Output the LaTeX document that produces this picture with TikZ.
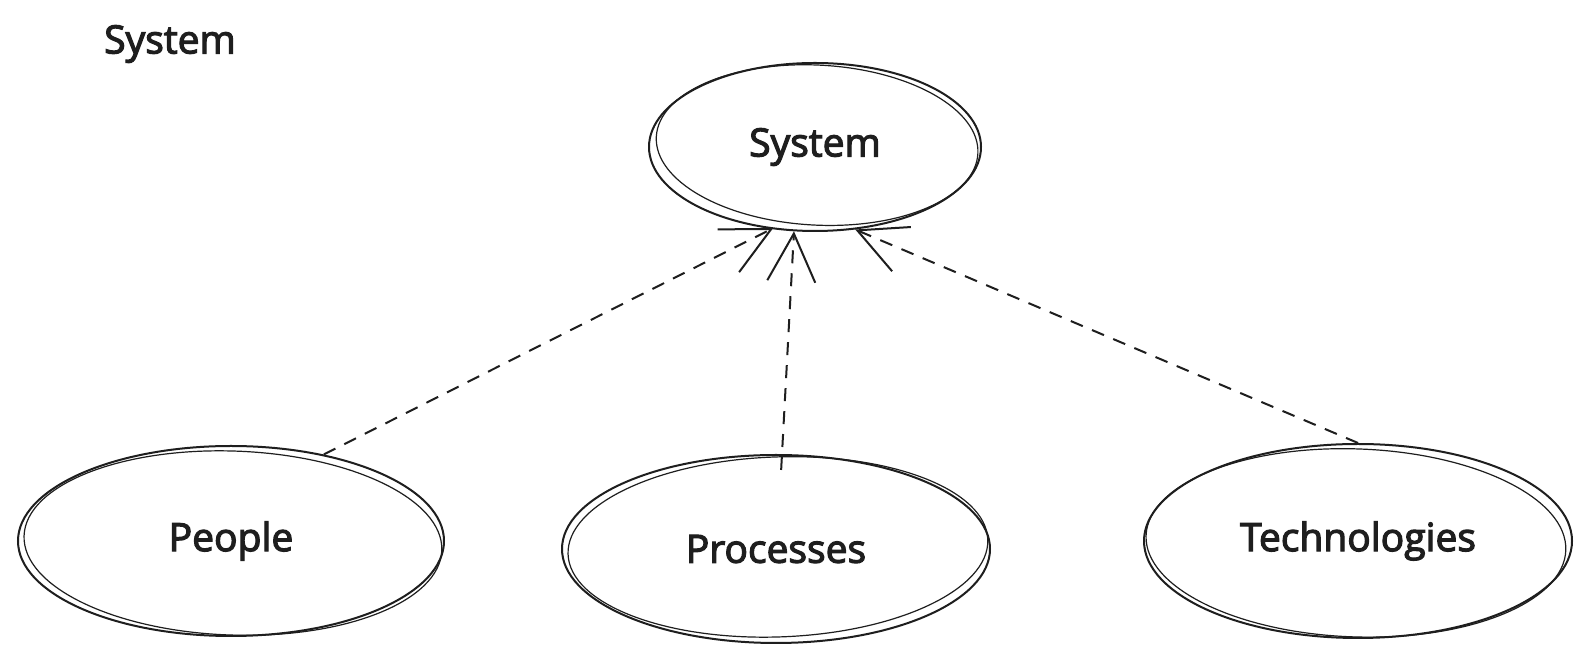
\documentclass[tikz,border=0pt]{standalone}
\usepackage{fontspec}
\newfontfamily\hand{Open Sans}[RawFeature={embolden=3}]
\usetikzlibrary{shapes.geometric,arrows.meta}
\definecolor{ink}{HTML}{1E1E1E}
\tikzset{
  oval/.style={ellipse,draw=ink,line width=2pt,inner sep=0pt,font=\hand\fontsize{39}{42}\selectfont,text=ink},
  sketch/.style={draw=ink,line width=1.2pt},
  dep/.style={draw=ink,line width=2pt,dash pattern=on 13pt off 10pt,
    -{Straight Barb[length=48pt,width=48pt,line width=2pt]}},
  lbl/.style={font=\hand\fontsize{39}{42}\selectfont,text=ink,inner sep=0pt}
}
\begin{document}
\begin{tikzpicture}[x=1pt,y=1pt]
\useasboundingbox (0,0) rectangle (1588,663);
\fill[white] (0,0) rectangle (1588,663);
\node[lbl] (title) at (170,619) {System};
\node[oval,minimum width=332pt,minimum height=168pt] (system) at (815,516) {System};
\node[oval,minimum width=426pt,minimum height=190pt] (people) at (231,122) {People};
\node[oval,minimum width=428pt,minimum height=188pt] (processes) at (776,114) {Processes};
\node[oval,minimum width=428pt,minimum height=194pt] (tech) at (1358,122) {Technologies};
% sketchy second strokes
\draw[sketch,rotate around={-3:(815,516)}] (817,518) ellipse (161 and 80);
\draw[sketch,rotate around={-2:(231,122)}] (233,120) ellipse (209 and 92);
\draw[sketch,rotate around={2:(776,114)}] (778,116) ellipse (210 and 90);
\draw[sketch,rotate around={-2:(1358,122)}] (1356,120) ellipse (210 and 94);
% connectors
\draw[dep,shorten >=-2pt] (people.43) -- (system.242);
\draw[dep,shorten <=-16pt] ([xshift=6pt]processes.north) -- (system.256);
\draw[dep] (tech.north) -- (system.296);
\end{tikzpicture}
\end{document}
